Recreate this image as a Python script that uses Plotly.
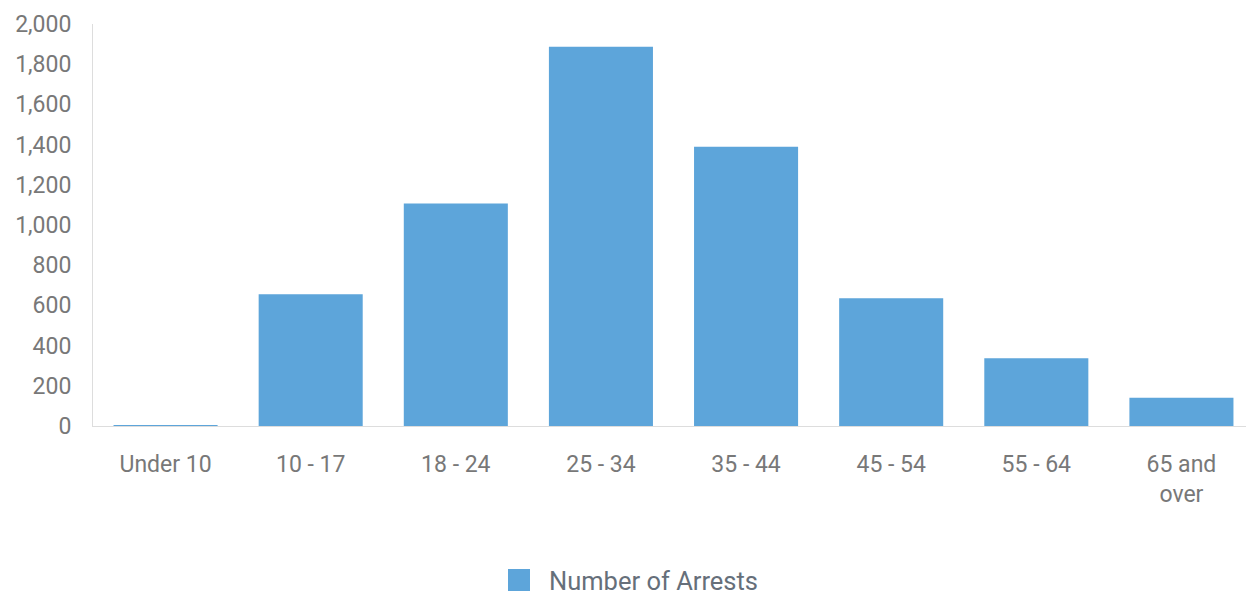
import plotly.graph_objects as go

categories = ["Under 10", "10 - 17", "18 - 24", "25 - 34", "35 - 44", "45 - 54", "55 - 64", "65 and<br>over"]
arrests = [1, 656, 1107, 1887, 1389, 636, 337, 141]
series_name = "Number of Arrests"
bar_color = "#5DA5DA"

# page has an 8px body margin; compensate so the plot area sits at page x 93..1254, y 24..426
OFF = 8
L, T, B = 93 - OFF, 24 - OFF, 180
FIG_W, FIG_H = 1254 - OFF, 606 - OFF
W, H = FIG_W - L, FIG_H - T - B

def px_x(p):
    return (p - OFF - L) / W

def px_y(p):
    return (T + H - (p - OFF)) / H

fig = go.Figure()
fig.add_trace(go.Bar(
    x=categories, y=arrests, name=series_name,
    marker=dict(color=bar_color, line=dict(width=0)),
    width=0.717, showlegend=False,
))

# manual legend (larger swatch like the reference)
fig.add_shape(type="rect", xref="paper", yref="paper",
              x0=px_x(508), x1=px_x(530), y0=px_y(591), y1=px_y(569),
              fillcolor=bar_color, line=dict(width=0))
fig.add_annotation(xref="paper", yref="paper", x=px_x(547), y=px_y(581),
                   xanchor="left", yanchor="middle", showarrow=False,
                   text=series_name, font=dict(family="Roboto", size=25.5, color="#666f7a"))

fig.update_layout(
    width=FIG_W, height=FIG_H,
    margin=dict(l=L, r=0, t=T, b=B),
    plot_bgcolor="white", paper_bgcolor="white",
    font=dict(family="Roboto", size=23, color="#787878"),
    showlegend=False,
)
fig.update_xaxes(showline=True, linecolor="#dddddd", linewidth=1, ticks="outside", ticklen=17,
                 tickcolor="white", showgrid=False, automargin=False,
                 tickfont=dict(size=23, color="#787878"))
fig.update_yaxes(range=[0, 2000], dtick=200, tickformat=",", showline=True, linecolor="#dddddd",
                 linewidth=1, showgrid=False, zeroline=False, ticks="outside", ticklen=16,
                 tickcolor="white", automargin=False, tickfont=dict(size=23, color="#787878"))
fig.write_html("out.html")
